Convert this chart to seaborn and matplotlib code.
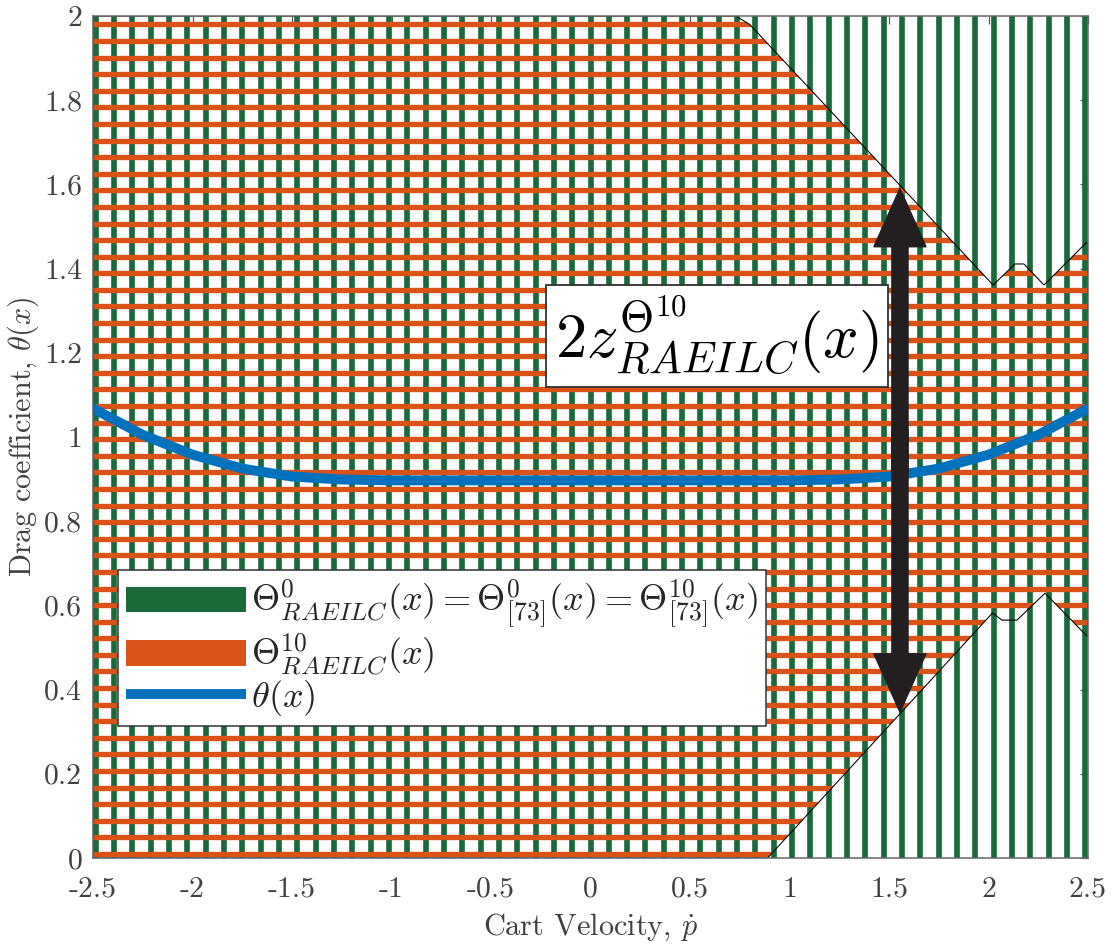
import numpy as np
import pandas as pd
import matplotlib
matplotlib.use("Agg")
import matplotlib.pyplot as plt
from matplotlib.patches import Polygon, Rectangle, Patch
from matplotlib.lines import Line2D
import seaborn as sns

# ---- data -------------------------------------------------------------
# true drag coefficient theta(x) over cart velocity
vel = [-2.5, -2.25, -2.0, -1.75, -1.5, -1.25, -1.0, -0.5, 0.0, 0.5, 1.0,
       1.25, 1.5, 1.75, 2.0, 2.25, 2.5]
theta = [1.068, 1.005, 0.958, 0.925, 0.906, 0.899, 0.897, 0.897, 0.897,
         0.897, 0.897, 0.899, 0.906, 0.925, 0.958, 1.005, 1.068]

# outer set Theta^0 (whole box)
outer_x = [-2.5, 2.5]
outer_y = [0.0, 2.0]

# refined set Theta^10: upper and lower boundaries
upper_x = [-2.5, 0.73, 0.80, 2.023, 2.133, 2.178, 2.279, 2.49, 2.5]
upper_y = [2.0, 2.0, 1.98, 1.361, 1.411, 1.411, 1.361, 1.461, 1.461]
lower_x = [-2.5, 0.89, 2.02, 2.068, 2.143, 2.284, 2.495, 2.5]
lower_y = [0.0, 0.0, 0.582, 0.565, 0.565, 0.629, 0.527, 0.527]

# width annotation
arrow_x = 1.555
arrow_lo = 0.347
arrow_hi = 1.59

xtick_vals = [-2.5, -2.0, -1.5, -1.0, -0.5, 0.0, 0.5, 1.0, 1.5, 2.0, 2.5]
xtick_labels = ["-2.5", "-2", "-1.5", "-1", "-0.5", "0", "0.5", "1", "1.5", "2", "2.5"]
ytick_vals = [0.0, 0.2, 0.4, 0.6, 0.8, 1.0, 1.2, 1.4, 1.6, 1.8, 2.0]
ytick_labels = ["0", "0.2", "0.4", "0.6", "0.8", "1", "1.2", "1.4", "1.6", "1.8", "2"]

# ---- style ------------------------------------------------------------
GREEN = "#19693a"
ORANGE = "#d95319"
BLUE = "#0072bd"
DARK = "#231f20"
TXT = "#404040"

sns.set_theme(style="white")
plt.rcParams["font.family"] = "serif"
plt.rcParams["font.serif"] = ["cmr10", "DejaVu Serif"]
plt.rcParams["mathtext.fontset"] = "cm"
plt.rcParams["axes.unicode_minus"] = False

DPI = 110
fig = plt.figure(figsize=(1116 / DPI, 947 / DPI), dpi=DPI)
ax = fig.add_axes([93 / 1116, 1 - 858 / 947, (1088 - 93) / 1116, (858 - 16) / 947])
ax.set_xlim(outer_x)
ax.set_ylim(outer_y)

# hatch fill of the outer set: vertical green stripes
outer_patch = Rectangle((outer_x[0], outer_y[0]), outer_x[1] - outer_x[0],
                        outer_y[1] - outer_y[0], facecolor="none",
                        edgecolor="none", transform=ax.transData)
ax.add_patch(outer_patch)
vx = np.linspace(outer_x[0] + 0.013, outer_x[1] - 0.013, 55)
vl = ax.vlines(vx, outer_y[0], outer_y[1], colors=GREEN, linewidth=3.7,
               zorder=1)
vl.set_clip_path(outer_patch)

# hatch fill of the refined set: horizontal orange stripes
poly_xy = list(zip(upper_x, upper_y)) + list(zip(lower_x[::-1], lower_y[::-1]))
inner_patch = Polygon(poly_xy, closed=True, facecolor="none",
                      edgecolor="black", linewidth=0.7, zorder=2.5,
                      transform=ax.transData)
ax.add_patch(inner_patch)
hy = np.linspace(0.0095, 1.980, 51)
hl = ax.hlines(hy, outer_x[0], outer_x[1], colors=ORANGE, linewidth=3.5,
               zorder=2)
hl.set_clip_path(inner_patch)

# true parameter curve
df = pd.DataFrame({"vel": vel, "theta": theta})
sns.lineplot(data=df, x="vel", y="theta", ax=ax, color=BLUE, linewidth=6.5,
             zorder=3, legend=False)

# double-headed width arrow
mid = 0.5 * (arrow_lo + arrow_hi)
astyle = "simple,head_length=38,head_width=34,tail_width=10.5"
for tip, start in ((arrow_hi, mid - 0.05), (arrow_lo, mid + 0.05)):
    ax.annotate("", xy=(arrow_x, tip), xytext=(arrow_x, start),
                arrowprops=dict(arrowstyle=astyle, mutation_scale=1,
                                color=DARK, shrinkA=0, shrinkB=0),
                zorder=5)

ax.text(0.636, 1.24, r"$2z^{\Theta^{10}}_{RAEILC}(x)$", fontsize=41,
        ha="center", va="center", color="black", zorder=4,
        bbox=dict(boxstyle="square,pad=0.14", facecolor="white",
                  edgecolor="#333333", linewidth=1.2))

# axes cosmetics
ax.set_xticks(xtick_vals)
ax.set_xticklabels(xtick_labels)
ax.set_yticks(ytick_vals)
ax.set_yticklabels(ytick_labels)
ax.tick_params(direction="in", length=5, width=0.8, colors="#555555",
               labelcolor=TXT, labelsize=19.5, top=True, right=True)
ax.tick_params(axis="x", pad=12)
ax.tick_params(axis="y", pad=7)
for s in ax.spines.values():
    s.set_color("#666666")
    s.set_linewidth(1.0)
    s.set_visible(True)
ax.set_xlabel(r"Cart Velocity, $\dot{p}$", fontsize=19.8, color=TXT, labelpad=6)
ax.set_ylabel(r"Drag coefficient, $\theta(x)$", fontsize=19.8, color=TXT,
              labelpad=2)

handles = [Patch(facecolor=GREEN, edgecolor="none"),
           Patch(facecolor=ORANGE, edgecolor="none"),
           Line2D([], [], color=BLUE, linewidth=6.5, solid_capstyle="butt")]
labels = [r"$\Theta^{0}_{RAEILC}(x)=\Theta^{0}_{[73]}(x)=\Theta^{10}_{[73]}(x)$",
          r"$\Theta^{10}_{RAEILC}(x)$",
          r"$\theta(x)$"]
leg = ax.legend(handles, labels, loc="upper left",
                bbox_to_anchor=((118 - 93) / 995, (858 - 570) / 842),
                borderaxespad=0, fontsize=23.8, handlelength=3.3,
                handleheight=0.7, handletextpad=0.15, labelspacing=0.0,
                borderpad=0.22, fancybox=False, framealpha=1,
                edgecolor="#333333", facecolor="white")
leg.get_frame().set_linewidth(1.0)
leg.set_zorder(10)

fig.savefig("out.png", dpi=DPI)
